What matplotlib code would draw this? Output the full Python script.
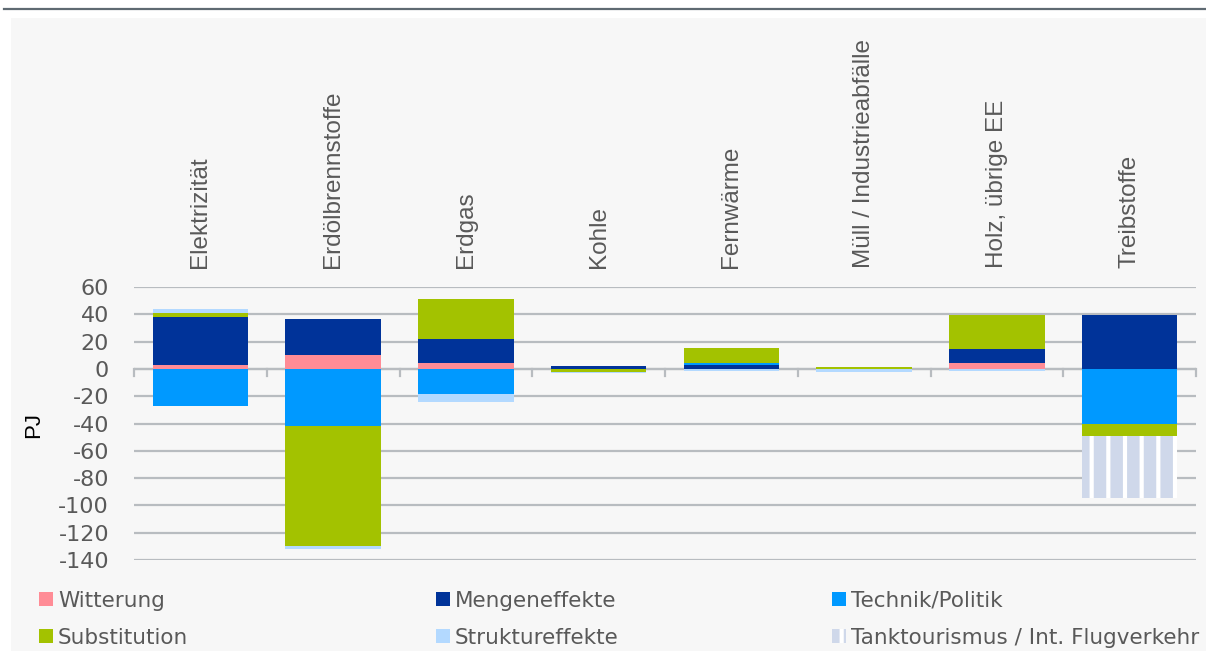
import matplotlib
matplotlib.use("Agg")
import matplotlib.pyplot as plt
import matplotlib.patches as mpatches
import matplotlib.lines as mlines
import numpy as np

categories = ["Elektrizität", "Erdölbrennstoffe", "Erdgas", "Kohle", "Fernwärme",
              "Müll / Industrieabfälle", "Holz, übrige EE", "Treibstoffe"]
series_names = ["Witterung", "Mengeneffekte", "Technik/Politik", "Substitution",
                "Struktureffekte", "Tanktourismus / Int. Flugverkehr"]
witterung       = [3.0, 10.5, 4.6, 0.0, 0.0, 0.0, 4.0, 0.0]
mengeneffekte   = [35.0, 26.0, 17.4, 2.0, 3.0, 0.0, 10.5, 39.8]
technik_politik = [-27.0, -41.5, -18.5, 0.0, 1.5, 0.0, 0.0, -40.3]
substitution    = [3.0, -88.0, 29.3, -2.3, 10.5, 1.5, 25.0, -8.5]
struktureffekte = [3.0, -2.6, -6.0, -0.8, -1.2, -2.0, -1.5, 0.0]
tanktourismus   = [0.0, 0.0, 0.0, 0.0, 0.0, 0.0, 0.0, -46.0]
y_ticks = [60, 40, 20, 0, -20, -40, -60, -80, -100, -120, -140]

colors = ["#ff8c96", "#003399", "#0099ff", "#a3c200", "#b3d9ff", "#cfd8ea"]

plt.rcParams['font.family'] = ['Liberation Sans', 'DejaVu Sans']
plt.rcParams['hatch.linewidth'] = 3.0

W, H = 1206, 655
fig = plt.figure(figsize=(W / 100, H / 100), dpi=100)
fig.patch.set_facecolor("white")


def fx(px):
    return px / W


def fy(py):
    return 1 - py / H


# panel background and top rule
fig.patches.append(mpatches.Rectangle((fx(11), fy(651)), fx(W - 11), (651 - 18) / H,
                                      transform=fig.transFigure, facecolor="#f7f7f7",
                                      edgecolor="none", zorder=-10))
fig.lines.append(mlines.Line2D([fx(4), 1.0], [fy(9), fy(9)], transform=fig.transFigure,
                               color="#5f6a72", lw=1.6))

ax = fig.add_axes([fx(134), fy(560), (1196 - 134) / W, (560 - 287) / H])
ax.set_facecolor("none")
ax.set_ylim(-140, 60)
x = np.arange(len(categories))
ax.set_xlim(-0.5, len(categories) - 0.5)

data = [witterung, mengeneffekte, technik_politik, substitution, struktureffekte, tanktourismus]
pos_base = np.zeros(len(categories))
neg_base = np.zeros(len(categories))
for i, (vals, name, col) in enumerate(zip(data, series_names, colors)):
    vals = np.array(vals)
    bottoms = np.where(vals >= 0, pos_base, neg_base)
    if i == 5:
        ax.bar(x, vals, width=0.72, bottom=bottoms, color=col, edgecolor="white",
               linewidth=0, hatch="|", label=name, zorder=3)
    else:
        ax.bar(x, vals, width=0.72, bottom=bottoms, color=col, linewidth=0,
               label=name, zorder=3)
    pos_base = pos_base + np.where(vals >= 0, vals, 0)
    neg_base = neg_base + np.where(vals < 0, vals, 0)

ax.set_yticks(y_ticks)
ax.set_yticklabels([str(v) for v in y_ticks], family=['DejaVu Sans'])
ax.tick_params(axis='y', length=0, pad=18, labelsize=16, labelcolor="#595959")
ax.yaxis.grid(True, color="#b8bcc0", lw=1.6, zorder=0)
ax.set_axisbelow(True)
for s in ["top", "right", "left", "bottom"]:
    ax.spines[s].set_visible(False)
ax.axhline(0, color="#b8bcc0", lw=1.6, zorder=2)
ax.set_xticks([])
for xb in np.arange(-0.5, len(categories)):
    ax.plot([xb, xb], [0, -5.5], color="#b8bcc0", lw=1.6, zorder=2, clip_on=False)

fig.text(fx(34), fy(425), "PJ", rotation=90, ha='center', va='center',
         fontsize=16, color="black")

for xi, cat in zip(x, categories):
    ax.annotate(cat, xy=(xi, 1.0), xycoords=('data', 'axes fraction'),
                xytext=(0, 13.5), textcoords='offset points', rotation=90,
                ha='center', va='bottom', fontsize=17.5, color="#595959")

# legend, laid out in three fixed columns and two rows
col_x = [39, 436, 832]
row_y = [599, 636]
legend_pos = [(0, 0), (0, 1), (0, 2), (1, 0), (1, 1), (1, 2)]
for i, (name, col) in enumerate(zip(series_names, colors)):
    r, c = legend_pos[i]
    mx, my = col_x[c], row_y[r]
    rect = mpatches.Rectangle((fx(mx), fy(my + 7)), 14 / W, 14 / H,
                              transform=fig.transFigure, facecolor=col,
                              edgecolor="white" if i == 5 else "none",
                              linewidth=0, hatch="|" if i == 5 else None)
    fig.patches.append(rect)
    fig.text(fx(mx + 19), fy(my), name, ha='left', va='center_baseline',
             fontsize=15.5, color="#595959", family=['DejaVu Sans'])

fig.savefig("out.png", dpi=100, facecolor="white")
